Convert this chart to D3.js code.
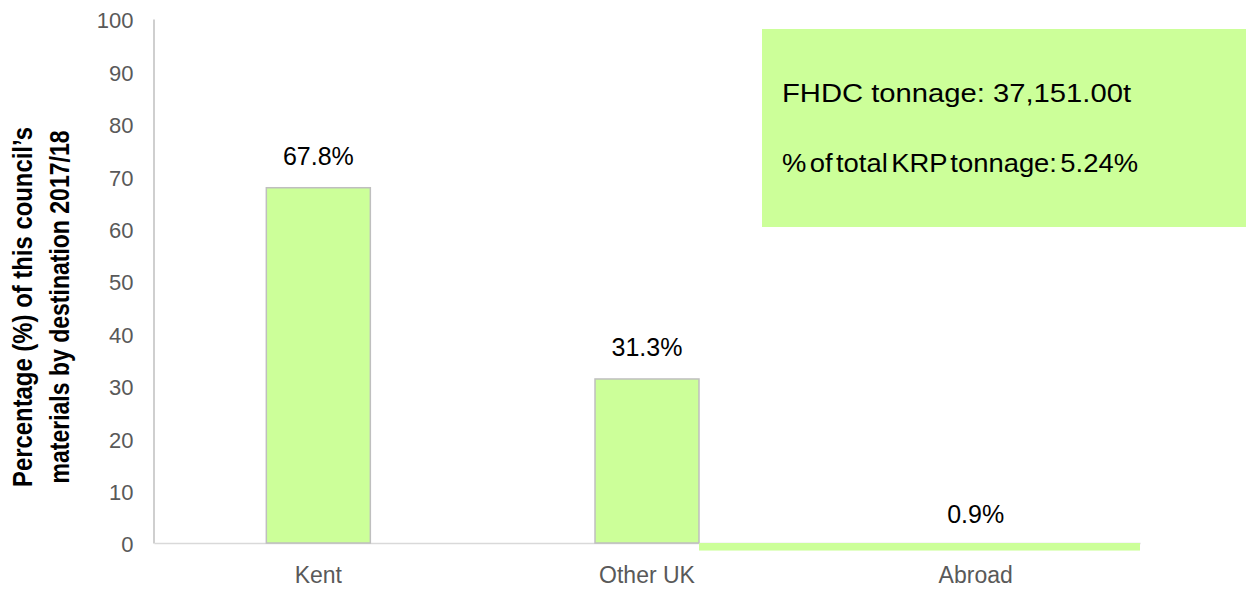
<!DOCTYPE html>
<html>
<head>
<meta charset="utf-8">
<script src="https://cdn.jsdelivr.net/npm/d3@7"></script>
<style>
    body { margin: 0; background: #fff; }
    text { font-family: "Liberation Sans", Arial, sans-serif; }
</style>
</head>
<body>
<div id="chart"></div>
<script>
// chart data
let categories = ["Kent", "Other UK", "Abroad"];
let values = [67.8, 31.3, 0.9];
let yTicks = [0, 10, 20, 30, 40, 50, 60, 70, 80, 90, 100];
let yTitleLines = ["Percentage (%) of this council\u2019s", "materials by destination 2017/18"];
let boxLines = ["FHDC tonnage: 37,151.00t", "% of total KRP tonnage: 5.24%"];

let data = categories.map((c, i) => ({ category: c, value: values[i] }));

let width = 1256, height = 590;

let svg = d3.select("#chart").append("svg")
    .attr("width", width)
    .attr("height", height);

// scales
let x = d3.scaleBand()
    .domain(categories)
    .range([154, 1140])
    .paddingInner(0.6836)
    .paddingOuter(0.3418);

let y = d3.scaleLinear()
    .domain([0, 100])
    .range([543, 19]);

// y axis
let yAxis = d3.axisLeft(y)
    .tickValues(yTicks)
    .tickSize(0)
    .tickSizeOuter(0)
    .tickPadding(20);

let gy = svg.append("g")
    .attr("transform", "translate(153.5,0)")
    .call(yAxis);
gy.select(".domain").attr("stroke", "#bfbfbf").attr("stroke-width", 1.5);
gy.selectAll("text")
    .attr("fill", "#595959")
    .style("font-size", "22px")
    .attr("dy", "0.4em");

// x axis
let xAxis = d3.axisBottom(x)
    .tickSize(0)
    .tickSizeOuter(0)
    .tickPadding(24);

let gx = svg.append("g")
    .attr("transform", "translate(0," + y(0) + ")")
    .call(xAxis);
gx.select(".domain").attr("stroke", "#d9d9d9").attr("stroke-width", 1.5);
gx.selectAll("text")
    .attr("fill", "#595959")
    .style("font-size", "23px");

// bars (the Abroad bar is drawn as the flat smeared strip seen in the original)
let normal = data.filter(d => d.category !== "Abroad");
let abroad = data.filter(d => d.category === "Abroad");

svg.selectAll(".bar")
    .data(normal)
    .enter().append("rect")
    .attr("class", "bar")
    .attr("x", d => x(d.category))
    .attr("y", d => y(d.value))
    .attr("width", x.bandwidth())
    .attr("height", d => y(0) - y(d.value))
    .attr("fill", "#ccff99")
    .attr("stroke", "#bfbfbf")
    .attr("stroke-width", 1.5);

svg.selectAll(".strip")
    .data(abroad)
    .enter().append("rect")
    .attr("class", "strip")
    .attr("x", x("Other UK") + x.bandwidth())
    .attr("y", y(0))
    .attr("width", x.range()[1] - (x("Other UK") + x.bandwidth()))
    .attr("height", d => 1.6 * (y(0) - y(d.value)))
    .attr("fill", "#ccff99");

// value labels
svg.selectAll(".value-label")
    .data(data)
    .enter().append("text")
    .attr("class", "value-label")
    .attr("x", d => x(d.category) + x.bandwidth() / 2)
    .attr("y", d => y(d.value) - (d.category === "Abroad" ? 15 : 23))
    .attr("text-anchor", "middle")
    .attr("fill", "#000")
    .style("font-size", "25px")
    .text(d => d.value.toFixed(1) + "%");

// y axis title
let yTitle = svg.append("g")
    .attr("transform", "translate(0,307) rotate(-90)");
yTitle.selectAll("text")
    .data(yTitleLines)
    .enter().append("text")
    .attr("x", 0)
    .attr("y", (d, i) => 32 + i * 37)
    .attr("text-anchor", "middle")
    .attr("textLength", (d, i) => i === 0 ? 360 : 353)
    .attr("lengthAdjust", "spacingAndGlyphs")
    .style("font-size", "28px")
    .style("font-weight", "bold")
    .attr("fill", "#000")
    .text(d => d);

// info box
svg.append("rect")
    .attr("x", 762)
    .attr("y", 29)
    .attr("width", 484)
    .attr("height", 198)
    .attr("fill", "#ccff99");

svg.selectAll(".box-text")
    .data(boxLines)
    .enter().append("text")
    .attr("class", "box-text")
    .attr("x", 782)
    .attr("y", (d, i) => i === 0 ? 102 : 172)
    .attr("textLength", (d, i) => i === 0 ? 349 : 356)
    .attr("lengthAdjust", "spacingAndGlyphs")
    .style("word-spacing", (d, i) => i === 0 ? "0px" : "-4px")
    .style("font-size", "26px")
    .attr("fill", "#000")
    .text(d => d);
</script>
</body>
</html>
